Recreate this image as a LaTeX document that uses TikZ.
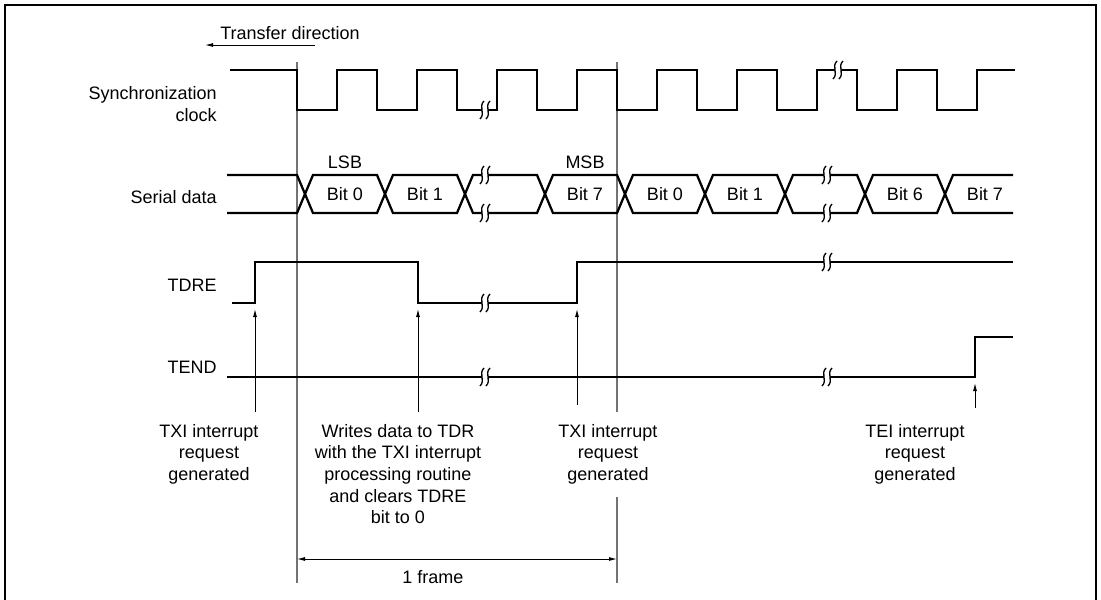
\documentclass[tikz,border=0pt]{standalone}
\usepackage{fontspec}
\setmainfont{Liberation Sans}
\usepackage{tikz}
\usetikzlibrary{arrows.meta, positioning}
\tikzstyle{wave} = [line width=1.7pt]
\tikzstyle{guide} = [line width=0.8pt, draw=black!55]
\tikzstyle{arrow} = [line width=0.7pt, ->, >={Latex[length=6pt,width=3pt]}]
\tikzstyle{lbl} = [inner sep=0pt, font=\fontsize{13.5}{16.2}\selectfont, align=center]
\newcommand{\gapmark}[2]{%
  \fill[white] ({#1-3},{#2-4}) rectangle ({#1+3},{#2+4});
  \foreach \o in {-3,3}
    \draw[line width=1pt] ({#1+\o+2},{#2-9}) .. controls ({#1+\o-4},{#2-3}) and ({#1+\o+4},{#2+3}) .. ({#1+\o-2},{#2+9});
}

\begin{document}
\begin{tikzpicture}[x=0.75pt, y=-0.75pt, node distance=24pt]
    \useasboundingbox (0,0) rectangle (1101,600);
    \draw[line width=1.5pt] (5,600) -- (5,5) -- (1096,5) -- (1096,600);

    \node (dir) [lbl] at (290,33) {Transfer direction};
    \coordinate (dirR) at (315,45);
    \coordinate (dirL) at (205,45);
    \draw [arrow] (dirR) -- (dirL);

    \node (clk) [lbl, anchor=east, align=right] at (217,104) {Synchronization\\clock};
    \node (sd) [lbl, anchor=east] at (217,197) {Serial data};
    \node (tdre) [lbl, anchor=east] at (217,285) {TDRE};
    \node (tend) [lbl, anchor=east] at (217,367) {TEND};

    \draw [guide] (297,62) -- (297,583);
    \draw [guide] (617,62) -- (617,412);
    \draw [guide] (617,497) -- (617,583);

    \draw [wave] (230,70) foreach \k in {0,...,8} {-- ({297+80*\k},70) -- ({297+80*\k},110) -- ({337+80*\k},110) -- ({337+80*\k},70)} -- (1015,70);

    \foreach \s/\e in {175/213, 213/175}
        \draw [wave] (227,\s) foreach \c in {297,457,617,777} {-- (\c,\s) -- ({\c+16},\e) -- ({\c+80},\e) -- ({\c+96},\s)} -- (937,\s) -- (953,\e) -- (1013,\e);

    \foreach \x/\t [count=\i] in {345/Bit 0, 425/Bit 1, 585/Bit 7, 665/Bit 0, 745/Bit 1, 905/Bit 6, 985/Bit 7}
        \node (bit\i) [lbl] at (\x,194) {\t};
    \node (lsb) [lbl, above of=bit1] {LSB};
    \node (msb) [lbl, above of=bit3] {MSB};

    \draw [wave] (232,303) -- (255,303) -- (255,262) -- (418,262) -- (418,303) -- (577,303) -- (577,262) -- (1013,262);
    \draw [wave] (227,377) -- (975,377) -- (975,337) -- (1013,337);

    \foreach \bx/\by in {485/110, 838/70, 485/175, 485/213, 827/175, 827/213, 485/303, 827/262, 485/377, 827/377}
        {\gapmark{\bx}{\by}}

    \node (note1) [lbl, anchor=north] at (209,424) {TXI interrupt\\request\\generated};
    \node (note2) [lbl, anchor=north] at (398,424) {Writes data to TDR\\with the TXI interrupt\\processing routine\\and clears TDRE\\bit to 0};
    \node (note3) [lbl, anchor=north] at (608,424) {TXI interrupt\\request\\generated};
    \node (note4) [lbl, anchor=north] at (915,424) {TEI interrupt\\request\\generated};

    \coordinate (foot1) at (255,412);
    \coordinate (tip1) at (255,309);
    \coordinate (foot2) at (418,412);
    \coordinate (tip2) at (418,309);
    \coordinate (foot3) at (577,405);
    \coordinate (tip3) at (577,309);
    \coordinate (foot4) at (975,408);
    \coordinate (tip4) at (975,383);
    \draw [arrow] (foot1) -- (tip1);
    \draw [arrow] (foot2) -- (tip2);
    \draw [arrow] (foot3) -- (tip3);
    \draw [arrow] (foot4) -- (tip4);

    \coordinate (frameL) at (297,559);
    \coordinate (frameR) at (617,559);
    \draw [arrow, <->] (frameL) -- (frameR);
    \node (frame) [lbl] at (433,577) {1 frame};
\end{tikzpicture}
\end{document}
